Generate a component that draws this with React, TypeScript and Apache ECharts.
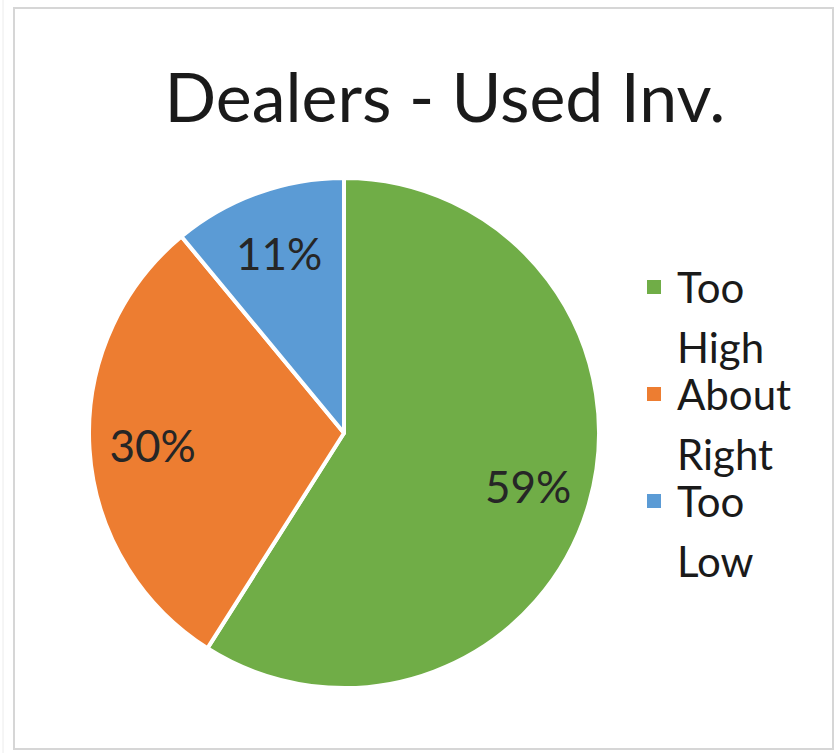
import React, { useEffect, useRef } from "react";
import * as echarts from "echarts";

const categories = ["Too\nHigh", "About\nRight", "Too\nLow"];
const values = [59, 30, 11];
const colors = ["#70AD47", "#ED7D31", "#5B9BD5"];
const titleText = "Dealers - Used Inv.";

const FONT = "Lato, 'Open Sans', sans-serif";

export default function App() {
  const ref = useRef<HTMLDivElement>(null);
  useEffect(() => {
    document.body.style.margin = "0";
    const chart = echarts.init(ref.current!, null, { renderer: "svg" });
    const data = categories.map((name, i) => ({
      name,
      value: values[i],
      itemStyle: { color: colors[i] },
    }));
    const center = [344, 433];
    const R = 255;
    chart.setOption({
      animation: false,
      backgroundColor: "#ffffff",
      title: {
        text: titleText,
        left: 440,
        textAlign: "center",
        top: 56,
        textStyle: {
          fontFamily: FONT,
          fontSize: 68,
          fontWeight: "normal",
          color: "#1a1a1a",
        },
      },
      legend: {
        orient: "vertical",
        left: 640,
        top: 251,
        itemWidth: 16,
        itemHeight: 120,
        itemGap: -15,
        icon: "path://M0,22h16v16h-16z M0,0h0.01v0.01h-0.01z M0,120h0.01v0.01h-0.01z",
        selectedMode: false,
        data: categories,
        textStyle: {
          fontFamily: FONT,
          fontSize: 42,
          lineHeight: 60,
          color: "#1a1a1a",
          padding: [0, 0, 0, 10],
        },
      },
      graphic: [
        {
          type: "rect",
          shape: { x: 14, y: 8, width: 819, height: 741 },
          style: { fill: "none", stroke: "#d6d6d6", lineWidth: 2 },
          silent: true,
        },
        {
          type: "line",
          shape: { x1: 3, y1: 0, x2: 3, y2: 753 },
          style: { stroke: "#ececec", lineWidth: 1 },
          silent: true,
        },
      ],
      series: [
        {
          type: "pie",
          center,
          radius: [0, R],
          startAngle: 90,
          clockwise: true,
          data,
          label: { show: false },
          labelLine: { show: false },
          itemStyle: { borderColor: "#ffffff", borderWidth: 4 },
          emphasis: { disabled: true },
          silent: true,
        },
        {
          type: "pie",
          center,
          radius: [0, R * 1.48],
          startAngle: 90,
          clockwise: true,
          data: categories.map((name, i) => ({ name, value: values[i] })),
          itemStyle: { color: "transparent", borderWidth: 0 },
          label: {
            show: true,
            position: "inside",
            formatter: "{c}%",
            fontFamily: FONT,
            fontSize: 44,
            color: "#262626",
          },
          labelLine: { show: false },
          emphasis: { disabled: true },
          silent: true,
        },
      ],
    });
    return () => chart.dispose();
  }, []);
  return <div ref={ref} style={{ width: 839, height: 753 }} />;
}
